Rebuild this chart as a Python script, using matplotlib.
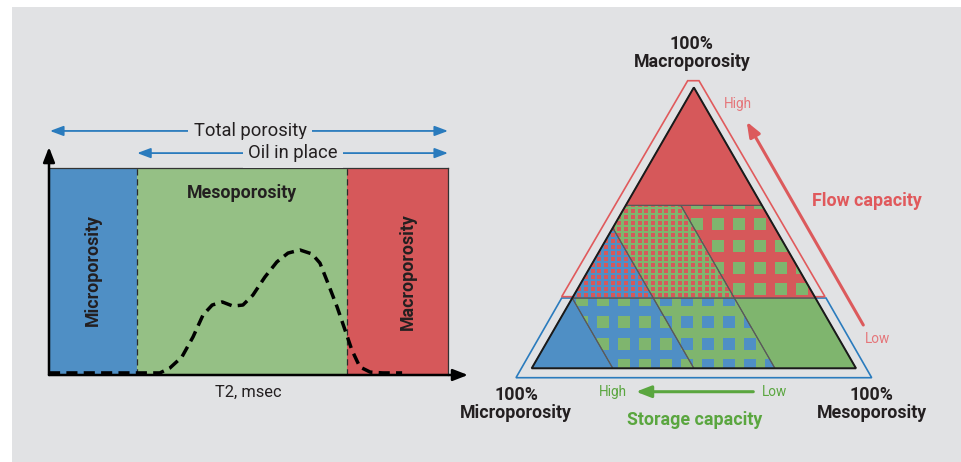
import numpy as np
import matplotlib
matplotlib.use("Agg")
import matplotlib.pyplot as plt
from matplotlib.patches import Polygon, Rectangle

plt.rcParams['font.family'] = ['Roboto', 'DejaVu Sans']

# ---- left panel data: T2 distribution (relative T2 position 0-100, amplitude 0-1)
zone_names = ['Microporosity', 'Mesoporosity', 'Macroporosity']
zone_edges = [0, 22.1, 74.7, 100]
zone_colors = ['#4f8fc5', '#95c085', '#d6585a']
t2_pos = [0, 27.8, 30.3, 33.3, 36.1, 38.6, 40.9, 43.4, 46.1, 48.6, 51.1, 54.1, 57.1,
          59.9, 62.9, 65.9, 67.9, 69.9, 72.2, 74.2, 75.9, 77.9, 80.5, 83.7, 88.5]
t2_amp = [0.01, 0.01, 0.034, 0.087, 0.184, 0.29, 0.338, 0.353, 0.333, 0.338, 0.386,
          0.473, 0.546, 0.589, 0.604, 0.585, 0.541, 0.444, 0.329, 0.217, 0.121,
          0.039, 0.014, 0.01, 0.01]

# ---- right panel data: ternary classes (macro range, micro range, base, pattern colour, pattern)
macro_cuts = [0.0, 0.25, 0.58, 1.0]
micro_cuts = [0.0, 0.25, 0.5, 0.75, 1.0]
classes = [
    # macro_lo, macro_hi, micro_lo, micro_hi, base, pattern colour, pattern
    (0.58, 1.00, 0.00, 1.00, 'red', None, None),
    (0.25, 0.58, 0.50, 1.00, 'blue', 'red', 'fine'),
    (0.25, 0.58, 0.25, 0.50, 'green', 'red', 'fine'),
    (0.25, 0.58, 0.00, 0.25, 'red', 'green', 'coarse_up'),
    (0.00, 0.25, 0.75, 1.00, 'blue', None, None),
    (0.00, 0.25, 0.50, 0.75, 'blue', 'green', 'coarse'),
    (0.00, 0.25, 0.25, 0.50, 'green', 'blue', 'coarse'),
    (0.00, 0.25, 0.00, 0.25, 'green', None, None),
]
tri_colors = {'red': '#d6585a', 'green': '#7fb56e', 'blue': '#4f8fc5'}

BG = '#e1e2e4'
DARK = '#231f20'
RED_TXT = '#e0595c'
RED_LIGHT = '#e5767a'
GREEN_TXT = '#5aa63f'
BLUE_LN = '#2a7bbd'

fig = plt.figure(figsize=(9.62, 4.62), dpi=100)
fig.patches.append(Rectangle((12 / 962, 0), 1, (462 - 7) / 462, transform=fig.transFigure,
                             facecolor=BG, edgecolor='none', zorder=-10))

# ================= ternary panel (full-figure axes, unit = triangle side)
s = 324.3
axt = fig.add_axes([0, 0, 1, 1])
axt.set_xlim(-531.7 / s, (962 - 531.7) / s)
axt.set_ylim((368.3 - 462) / s, 368.3 / s)
axt.axis('off')
axt.patch.set_alpha(0)
H = np.sqrt(3) / 2


def txy(micro, macro):
    meso = 1 - micro - macro
    return meso + macro / 2, macro * H


def clip(poly, f):
    out = []
    n = len(poly)
    for i in range(n):
        p, q = poly[i], poly[(i + 1) % n]
        fp, fq = f(p), f(q)
        if fp >= 0:
            out.append(p)
        if fp * fq < 0:
            t = fp / (fp - fq)
            out.append((p[0] + t * (q[0] - p[0]), p[1] + t * (q[1] - p[1])))
    return out


def class_poly(mlo, mhi, ulo, uhi):
    poly = [(1.0, 0.0), (0.0, 0.0), (0.0, 1.0)]  # (micro, macro)
    poly = clip(poly, lambda p: p[1] - mlo)
    poly = clip(poly, lambda p: mhi - p[1])
    poly = clip(poly, lambda p: p[0] - ulo)
    poly = clip(poly, lambda p: uhi - p[0])
    return [txy(u, m) for u, m in poly]


for mlo, mhi, ulo, uhi, base, pcol, pat in classes:
    patch = Polygon(class_poly(mlo, mhi, ulo, uhi), closed=True,
                    facecolor=tri_colors[base], edgecolor='none', zorder=2)
    axt.add_patch(patch)
    if pat is None:
        continue
    if pat == 'fine':
        dx, dy, x0, y0, size = 6.7 / s, 6.0 / s, 0.002, 0.004, 3.8
    elif pat == 'coarse':
        dx, dy, x0, y0, size = 21 / s, 21.7 / s, 0.2189, 0.009, 12
    else:
        dx, dy, x0, y0, size = 21 / s, 21.7 / s, 0.2189 + 10.5 / s, 0.009 + 10.85 / s, 12
    gx = x0 + dx * np.arange(-40, 200)
    gy = y0 + dy * np.arange(-5, 160)
    gx = gx[(gx > -0.05) & (gx < 1.05)]
    gy = gy[(gy > -0.05) & (gy < 0.9)]
    X, Y = np.meshgrid(gx, gy)
    sc = axt.scatter(X.ravel(), Y.ravel(), s=(size * 0.72) ** 2, marker='s',
                     color=tri_colors[pcol], linewidths=0, zorder=3)
    sc.set_clip_path(patch)

# internal divider lines on top of patterns
for mlo, mhi, ulo, uhi, base, pcol, pat in classes:
    axt.add_patch(Polygon(class_poly(mlo, mhi, ulo, uhi), closed=True, facecolor='none',
                          edgecolor='#5a5a5a', lw=0.8, zorder=4))
axt.add_patch(Polygon(class_poly(0, 1, 0, 1), closed=True, facecolor='none',
                      edgecolor='#1a1a1a', lw=1.4, zorder=5))

# flow (red) and storage (blue) outlines
red_box = [(0.481, 0.8868), (0.5159, 0.8868), (0.9044, 0.2208), (0.0925, 0.2208)]
blue_box = [(0.0925, 0.2168), (0.9075, 0.2168), (1.0484, -0.029), (-0.0484, -0.029)]
axt.add_patch(Polygon(blue_box, closed=True, fill=False, edgecolor=BLUE_LN, lw=1.2, zorder=1))
axt.add_patch(Polygon(red_box, closed=True, fill=False, edgecolor='#e05a5c', lw=1.2, zorder=1))

# capacity arrows
axt.annotate('', xy=(0.663, 0.7604), xytext=(1.0225, 0.1335),
             arrowprops=dict(arrowstyle='-|>,head_length=0.9,head_width=0.35',
                             color='#dc5a5c', lw=2.2, shrinkA=0, shrinkB=0))
axt.annotate('', xy=(0.3216, -0.0722), xytext=(0.6833, -0.0722),
             arrowprops=dict(arrowstyle='-|>,head_length=0.9,head_width=0.35',
                             color=GREEN_TXT, lw=2.2, shrinkA=0, shrinkB=0))

bold = dict(fontsize=12.8, fontweight='bold', ha='center', va='center')
axt.text(0.4934, 1.000, '100%', color=DARK, **bold)
axt.text(0.4952, 0.9454, 'Macroporosity', color=DARK, **bold)
axt.text(-0.048, -0.082, '100%', color=DARK, **bold)
axt.text(-0.048, -0.1388, 'Microporosity', color=DARK, **bold)
axt.text(1.0484, -0.082, '100%', color=DARK, **bold)
axt.text(1.0484, -0.1388, 'Mesoporosity', color=DARK, **bold)
axt.text(1.033, 0.5159, 'Flow capacity', color=RED_TXT, **bold)
axt.text(0.5014, -0.1594, 'Storage capacity', color=GREEN_TXT, **bold)
small = dict(fontsize=9.8, ha='center', va='center')
axt.text(0.6371, 0.815, 'High', color=RED_LIGHT, **small)
axt.text(1.0657, 0.0894, 'Low', color=RED_LIGHT, **small)
axt.text(0.2516, -0.0722, 'High', color=GREEN_TXT, **small)
axt.text(0.7502, -0.0722, 'Low', color=GREEN_TXT, **small)

# ================= T2 distribution panel
ax = fig.add_axes([49 / 962, (462 - 375) / 462, 399 / 962, 207 / 462])
ax.set_xlim(0, 100)
ax.set_ylim(0, 1)
for i, c in enumerate(zone_colors):
    ax.axvspan(zone_edges[i], zone_edges[i + 1], color=c, lw=0, zorder=0)
for e in zone_edges[1:-1]:
    ax.axvline(e, color='#2b2b2b', lw=0.9, ls=(0, (5, 3)), zorder=1)
ax.plot(t2_pos, t2_amp, color='black', lw=2.5, ls=(0, (3.2, 1.8)), zorder=3)
ax.set_xticks([])
ax.set_yticks([])
for sp in ['left', 'bottom']:
    ax.spines[sp].set_visible(False)
for sp in ['top', 'right']:
    ax.spines[sp].set_color('#333333')
    ax.spines[sp].set_linewidth(0.9)

ax.annotate('', xy=(0, 1.101), xytext=(0, 0), xycoords='data',
            arrowprops=dict(arrowstyle='-|>,head_length=0.9,head_width=0.35',
                            color='black', lw=1.8, shrinkA=0, shrinkB=0),
            annotation_clip=False)
ax.annotate('', xy=(105, 0), xytext=(0, 0),
            arrowprops=dict(arrowstyle='-|>,head_length=0.9,head_width=0.35',
                            color='black', lw=1.8, shrinkA=0, shrinkB=0),
            annotation_clip=False)

blue_arrow = dict(arrowstyle='<|-|>,head_length=0.8,head_width=0.3', color=BLUE_LN,
                  lw=1.3, shrinkA=0, shrinkB=0)
ax.annotate('', xy=(0.25, 1.179), xytext=(100, 1.179), arrowprops=blue_arrow,
            annotation_clip=False)
ax.annotate('', xy=(22.1, 1.072), xytext=(100, 1.072), arrowprops=blue_arrow,
            annotation_clip=False)
box = dict(boxstyle='square,pad=0.3', fc=BG, ec='none')
ax.text(50.4, 1.179, 'Total porosity', fontsize=13.2, color=DARK, ha='center',
        va='center', bbox=box, clip_on=False)
ax.text(61.2, 1.072, 'Oil in place', fontsize=13.2, color=DARK, ha='center',
        va='center', bbox=box, clip_on=False)

label_x = [11.0, 48.4, 90.0]
ax.text(label_x[0], 0.507, zone_names[0], rotation=90, color=DARK, **bold)
ax.text(label_x[1], 0.879, zone_names[1], color=DARK, **bold)
ax.text(label_x[2], 0.498, zone_names[2], rotation=90, color=DARK, **bold)
ax.text(49.9, -0.082, 'T2, msec', fontsize=11.8, color=DARK, ha='center', va='center',
        clip_on=False)

fig.savefig('out.png', dpi=100)
